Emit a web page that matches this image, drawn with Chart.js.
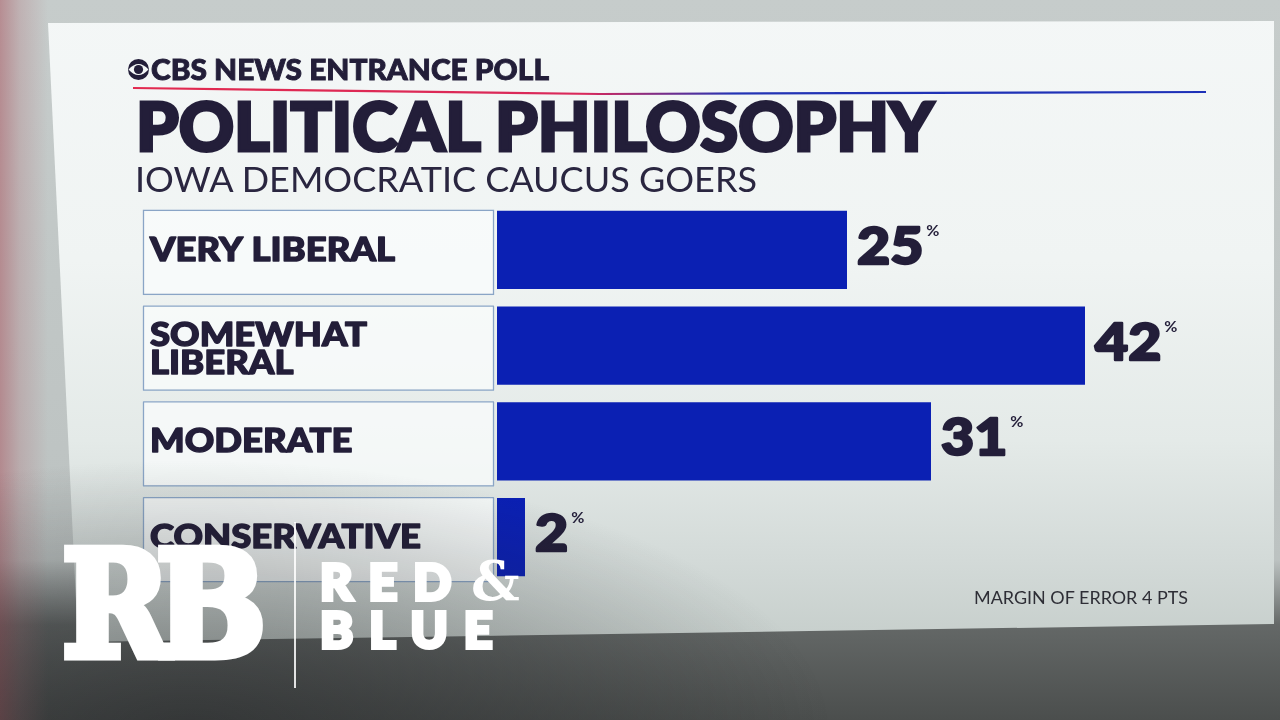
<!DOCTYPE html>
<html><head><meta charset="utf-8">
<script src="https://cdn.jsdelivr.net/npm/chart.js@4.4.1/dist/chart.umd.min.js"></script>
<style>
html,body{margin:0;padding:0}
body{width:1280px;height:720px;overflow:hidden;position:relative;
 background:linear-gradient(180deg,#c6cccb 0px,#bcc2c1 560px,#646867 625px,#4b4e4d 720px);font-family:Lato,sans-serif;}
.layer{position:absolute;left:0;top:0;width:1280px;height:720px;}
#panel{clip-path:polygon(48px 23px,1274px 21px,1274px 624px,480px 636px,78px 642px);
 background:linear-gradient(180deg,#f4f7f7 0px,#f0f4f3 260px,#e4eae8 440px,#d3dad8 560px,#c6cecb 645px);}
#lefttint{background:linear-gradient(90deg,rgba(170,90,100,.55) 0px,rgba(175,110,118,.28) 20px,rgba(180,150,150,0) 48px);}
#shade{background:radial-gradient(ellipse 640px 270px at 190px 730px,rgba(34,36,38,.55),rgba(34,36,38,.25) 55%,rgba(34,36,38,0));}
#chart{position:absolute;left:0;top:0;}
.t{position:absolute;white-space:nowrap;transform-origin:0 0;line-height:1;color:#231e39;}
#cbs{font:900 28px Lato;-webkit-text-stroke:0.9px #231e39;}
#title{font:900 66px Lato;-webkit-text-stroke:3px #231e39;}
#sub{font:400 35px Lato;color:#2a2640;}
#moe{font:400 17px Lato;color:#2e2e36;}
#rb{font:700 146px "DejaVu Serif";color:#fff;letter-spacing:-16px;-webkit-text-stroke:9px #fff;}
#red,#blue{font:900 50px Lato;color:#fff;letter-spacing:16px;-webkit-text-stroke:4px #fff;}
#amp{font:700 54px "DejaVu Serif";color:#fff;}
#vline{position:absolute;left:294px;top:522px;width:1.5px;height:166px;background:rgba(255,255,255,.85);}
</style></head>
<body>
<div id="panel" class="layer"></div>
<div id="lefttint" class="layer"></div>
<svg class="layer" width="1280" height="720" style="position:absolute;left:0;top:0">
 <defs><linearGradient id="rl" x1="133" y1="0" x2="1206" y2="0" gradientUnits="userSpaceOnUse">
  <stop offset="0" stop-color="#e22a4f"/><stop offset="0.42" stop-color="#d9285a"/><stop offset="0.56" stop-color="#2233b4"/><stop offset="1" stop-color="#1d31b8"/></linearGradient></defs>
 <polyline points="133,88 600,94 1206,92" fill="none" stroke="url(#rl)" stroke-width="2.2"/>
 <circle cx="138.5" cy="69.5" r="10.5" fill="#231e39"/>
 <path d="M128.5,69.5 Q138.5,58.5 148.5,69.5 Q138.5,80.5 128.5,69.5Z" fill="#f3f6f6"/>
 <circle cx="138.5" cy="69.5" r="4.6" fill="#231e39"/>
</svg>
<canvas id="chart" width="1280" height="720"></canvas>
<div id="shade" class="layer"></div>
<div class="t" id="cbs">CBS NEWS ENTRANCE POLL</div>
<div class="t" id="title">POLITICAL PHILOSOPHY</div>
<div class="t" id="sub">IOWA DEMOCRATIC CAUCUS GOERS</div>
<div class="t" id="moe">MARGIN OF ERROR 4 PTS</div>
<div class="t" id="rb">RB</div>
<div id="vline"></div>
<div class="t" id="red">RED</div>
<div class="t" id="amp">&amp;</div>
<div class="t" id="blue">BLUE</div>
<script>
// ---- data ----
const categories = [['VERY LIBERAL'], ['SOMEWHAT', 'LIBERAL'], ['MODERATE'], ['CONSERVATIVE']];
const values = [25, 42, 31, 2];
const valueSuffix = '%';
const xMin = 0;
const xMax = 50;

// ---- html text placement (baseline + fitted width) ----
function place(id, x, baseline, targetW) {
  const el = document.getElementById(id);
  el.style.left = x + 'px'; el.style.top = '0px'; el.style.transform = 'none';
  const probe = document.createElement('span');
  probe.style.cssText = 'display:inline-block;width:0;height:0;vertical-align:baseline';
  el.appendChild(probe);
  const er = el.getBoundingClientRect();
  const base = probe.getBoundingClientRect().bottom - er.top;
  el.removeChild(probe);
  el.style.top = (baseline - base) + 'px';
  if (targetW) {
    const ls = parseFloat(getComputedStyle(el).letterSpacing) || 0;
    const w = er.width - ls;
    el.style.transform = 'scaleX(' + (targetW / w) + ')';
  }
}
place('cbs', 151, 80, 398);
place('title', 136, 151, 798);
place('sub', 135, 192, 622);
place('moe', 974, 604, 214);
place('rb', 62, 656, 204);
place('red', 320, 600, 0);
place('amp', 471, 600, 0);
place('blue', 320, 648, 0);

// ---- chart ----
const ink = '#231e39';
const rowDecor = {
  id: 'rowDecor',
  beforeDatasetsDraw(chart) {
    const { ctx, scales: { y } } = chart;
    ctx.save();
    ctx.font = '900 32px Lato';
    const sx = 245 / ctx.measureText(categories[0][0]).width;
    categories.forEach((lines, i) => {
      const cy = y.getPixelForValue(i);
      const top = cy - 40, h = 84;
      ctx.fillStyle = 'rgba(250,252,252,0.75)';
      ctx.fillRect(143, top, 350, h);
      ctx.strokeStyle = '#8aa5c6';
      ctx.lineWidth = 1.3;
      ctx.strokeRect(143.5, top + 0.5, 350, h);
      ctx.fillStyle = ink;
      ctx.strokeStyle = ink;
      ctx.lineWidth = 1.4;
      ctx.lineJoin = 'round';
      const first = cy + 11 - (lines.length - 1) * 11;
      lines.forEach((t, k) => {
        ctx.save();
        ctx.translate(150, first + k * 28);
        ctx.scale(sx, 1);
        ctx.fillText(t, 0, 0);
        ctx.strokeText(t, 0, 0);
        ctx.restore();
      });
    });
    ctx.restore();
  },
  afterDatasetsDraw(chart) {
    const { ctx } = chart;
    const meta = chart.getDatasetMeta(0);
    ctx.save();
    meta.data.forEach((bar, i) => {
      const txt = String(values[i]);
      const x = bar.x + 10;
      const base = bar.y + 14;
      ctx.font = '900 52px Lato';
      const sx = 1.1;
      const w = ctx.measureText(txt).width * sx;
      ctx.fillStyle = ink;
      ctx.strokeStyle = ink;
      ctx.lineWidth = 2.4;
      ctx.lineJoin = 'round';
      ctx.save(); ctx.translate(x, base); ctx.scale(sx, 1); ctx.fillText(txt, 0, 0); ctx.strokeText(txt, 0, 0); ctx.restore();
      ctx.font = '700 16px Lato';
      ctx.fillText(valueSuffix, x + w + 3, base - 28);
    });
    ctx.restore();
  }
};

new Chart(document.getElementById('chart'), {
  type: 'bar',
  data: {
    labels: categories,
    datasets: [{
      data: values,
      backgroundColor: '#0b20b3',
      borderWidth: 0,
      barPercentage: 0.815,
      categoryPercentage: 1
    }]
  },
  options: {
    indexAxis: 'y',
    responsive: false,
    animation: false,
    devicePixelRatio: 1,
    layout: { padding: { left: 497, right: 83, top: 202, bottom: 135 } },
    scales: {
      x: { display: false, min: xMin, max: xMax },
      y: { display: false }
    },
    plugins: { legend: { display: false }, tooltip: { enabled: false } }
  },
  plugins: [rowDecor]
});
</script>
</body></html>
